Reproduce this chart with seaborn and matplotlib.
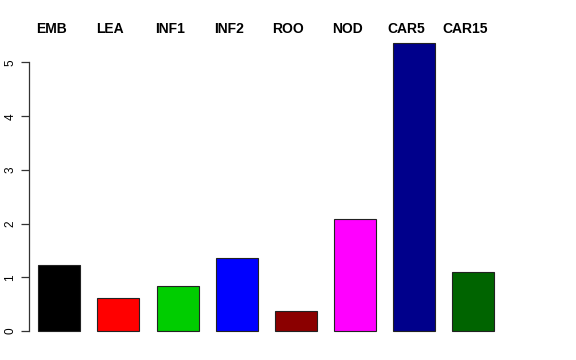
import matplotlib
matplotlib.use('Agg')
import matplotlib.pyplot as plt
import matplotlib.transforms as mtransforms
import seaborn as sns

# values
samples = ['EMB', 'LEA', 'INF1', 'INF2', 'ROO', 'NOD', 'CAR5', 'CAR15']
expression = [1.23, 0.61, 0.84, 1.36, 0.38, 2.09, 5.36, 1.09]
bar_colors = ['#000000', '#FF0000', '#00CD00', '#0000FF',
              '#8B0000', '#FF00FF', '#00008B', '#006400']
y_ticks = [0, 1, 2, 3, 4, 5]

sns.set_style('white')
plt.rcParams['font.family'] = ['Liberation Sans', 'DejaVu Sans']
plt.rcParams['text.color'] = 'black'
plt.rcParams['ytick.color'] = 'black'

fig = plt.figure(figsize=(5.76, 3.6), dpi=100)
ax = fig.add_axes([29 / 576, 18 / 360, 474.6 / 576, 312 / 360])

sns.barplot(x=samples, y=expression, hue=samples, palette=bar_colors,
            saturation=1, width=0.71, edgecolor='#222222', linewidth=0.8,
            legend=False, ax=ax)

ax.set_xlim(-0.511, 7.511)
ax.set_ylim(-0.205, 5.605)

# R-like axis: only left axis, from 0 to 5, vertical labels
for side in ['top', 'right', 'bottom']:
    ax.spines[side].set_visible(False)
ax.spines['left'].set_bounds(0, 5)
ax.spines['left'].set_color('#333333')
ax.spines['left'].set_linewidth(0.9)
ax.set_xticks([])
ax.set_yticks(y_ticks)
ax.set_yticklabels([str(t) for t in y_ticks], rotation=90, va='center', fontsize=8.5)
ax.tick_params(axis='y', left=True, length=6, width=0.9, color='#333333',
               labelcolor='black', pad=3)
ax.set_xlabel('')
ax.set_ylabel('')

# sample names above the bars
trans = mtransforms.blended_transform_factory(ax.transData, ax.transAxes)
for i, name in enumerate(samples):
    ax.text(i - 0.135, 1.003, name, transform=trans, ha='center', va='center',
            fontsize=10, fontweight='bold', color='black')

fig.savefig('out.png', dpi=100)
